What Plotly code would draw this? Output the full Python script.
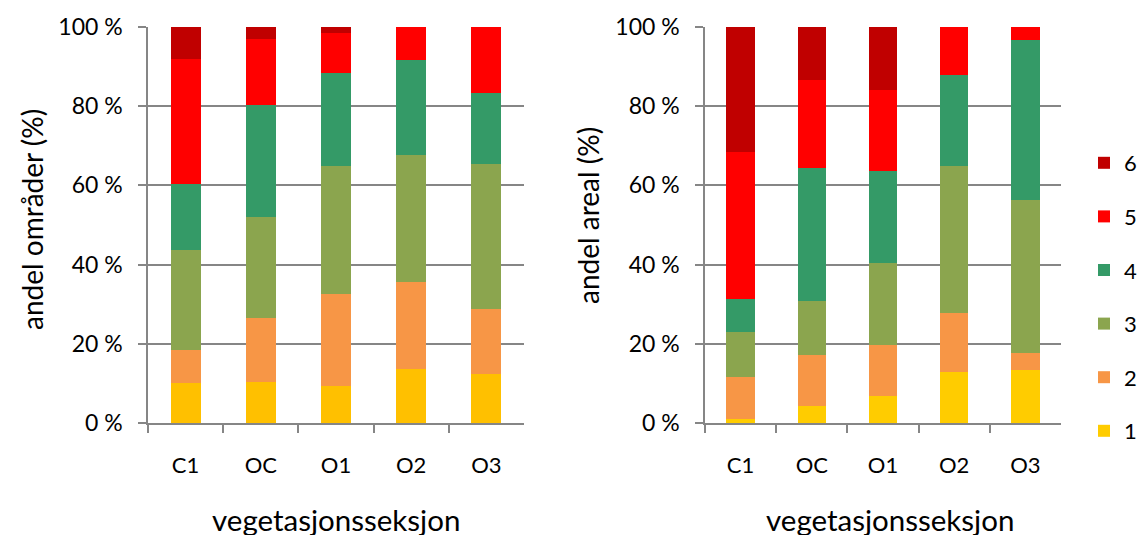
import plotly.graph_objects as go

categories = ["C1", "OC", "O1", "O2", "O3"]
classes = ["1", "2", "3", "4", "5", "6"]

# left panel: andel områder (%)
omrader = {
    "1": [10.2, 10.4, 9.4, 13.7, 12.3],
    "2": [8.3, 16.2, 23.2, 21.8, 16.6],
    "3": [25.1, 25.3, 32.4, 32.3, 36.4],
    "4": [16.7, 28.5, 23.4, 23.9, 18.1],
    "5": [31.5, 16.5, 10.2, 8.3, 16.6],
    "6": [8.2, 3.1, 1.4, 0.0, 0.0],
}
# right panel: andel areal (%)
areal = {
    "1": [1.1, 4.4, 6.7, 13.0, 13.3],
    "2": [10.4, 12.8, 12.9, 14.9, 4.5],
    "3": [11.6, 13.7, 20.7, 37.0, 38.4],
    "4": [8.3, 33.4, 23.4, 23.1, 40.5],
    "5": [37.0, 22.2, 20.3, 12.0, 3.3],
    "6": [31.6, 13.5, 16.0, 0.0, 0.0],
}

colors_left = {"1": "#FFC000", "2": "#F79646", "3": "#8BA54E", "4": "#349A67", "5": "#FF0000", "6": "#C00000"}
colors_right = {"1": "#FFCC00", "2": "#F79646", "3": "#8BA54E", "4": "#349A67", "5": "#FF0000", "6": "#C00000"}

ytick_vals = [0, 20, 40, 60, 80, 100]
ytick_text = ["0 %", "20 %", "40 %", "60 %", "80 %", "100 %"]

FONT = "Lato"
fig = go.Figure()

for c in classes:
    fig.add_trace(go.Bar(x=categories, y=omrader[c], name=c, marker=dict(color=colors_left[c], line=dict(width=0)),
                         xaxis="x", yaxis="y", width=0.4, showlegend=False, legendgroup=c))
for i, c in enumerate(classes):
    fig.add_trace(go.Bar(x=categories, y=areal[c], name=c, marker=dict(color=colors_right[c], line=dict(width=0)),
                         xaxis="x2", yaxis="y2", width=0.4, showlegend=True, legendgroup=c,
                         legendrank=len(classes) - i))

W, H = 1142, 535
grid = "#868686"
yax = dict(range=[0, 100], tickvals=ytick_vals, ticktext=ytick_text, showgrid=True, gridcolor=grid, gridwidth=1.5,
           showline=True, linecolor=grid, linewidth=1.5, ticks="outside", ticklen=8, tickcolor=grid, tickwidth=1.5,
           tickfont=dict(size=23, color="black", family=FONT), zeroline=False, ticklabelstandoff=11,
           domain=[1 - 423 / H, 1 - 27 / H], automargin=False)
xax = dict(showline=True, linecolor=grid, linewidth=1.5, ticks="outside", ticklen=8, tickcolor=grid, tickwidth=1.5,
           tickson="boundaries", tickfont=dict(size=22, color="black", family=FONT), ticklabelstandoff=22,
           automargin=False)

fig.update_layout(
    width=W, height=H,
    margin=dict(l=0, r=0, t=0, b=0, autoexpand=False),
    paper_bgcolor="white", plot_bgcolor="white",
    barmode="stack",
    font=dict(family=FONT, color="black"),
    xaxis=dict(xax, domain=[148 / W, 524 / W], anchor="y"),
    yaxis=dict(yax, anchor="x"),
    xaxis2=dict(xax, domain=[705 / W, 1061 / W], anchor="y2"),
    yaxis2=dict(yax, anchor="x2"),
    legend=dict(x=1.0, y=1 - 142 / H, xanchor="right", yanchor="top", traceorder="grouped",
                tracegroupgap=22, font=dict(size=22, family=FONT, color="black"),
                itemwidth=30, bgcolor="rgba(0,0,0,0)"),
    annotations=[
        dict(text="andel områder (%)", x=32 / W, y=1 - 220 / H, xref="paper", yref="paper", textangle=-90,
             xanchor="center", yanchor="middle",
             showarrow=False, font=dict(size=28, family=FONT, color="black")),
        dict(text="andel areal (%)", x=588 / W, y=1 - 216 / H, xref="paper", yref="paper", textangle=-90,
             xanchor="center", yanchor="middle",
             showarrow=False, font=dict(size=28, family=FONT, color="black")),
        dict(text="vegetasjonsseksjon", x=336 / W, y=1 - 519 / H, xref="paper", yref="paper",
             xanchor="center", yanchor="middle",
             showarrow=False, font=dict(size=29.5, family=FONT, color="black")),
        dict(text="vegetasjonsseksjon", x=890 / W, y=1 - 519 / H, xref="paper", yref="paper",
             xanchor="center", yanchor="middle",
             showarrow=False, font=dict(size=29.5, family=FONT, color="black")),
    ],
)

fig.write_html("out.html", config={"displayModeBar": False},
               post_script="document.body.style.margin='0';document.body.style.overflow='hidden';")
